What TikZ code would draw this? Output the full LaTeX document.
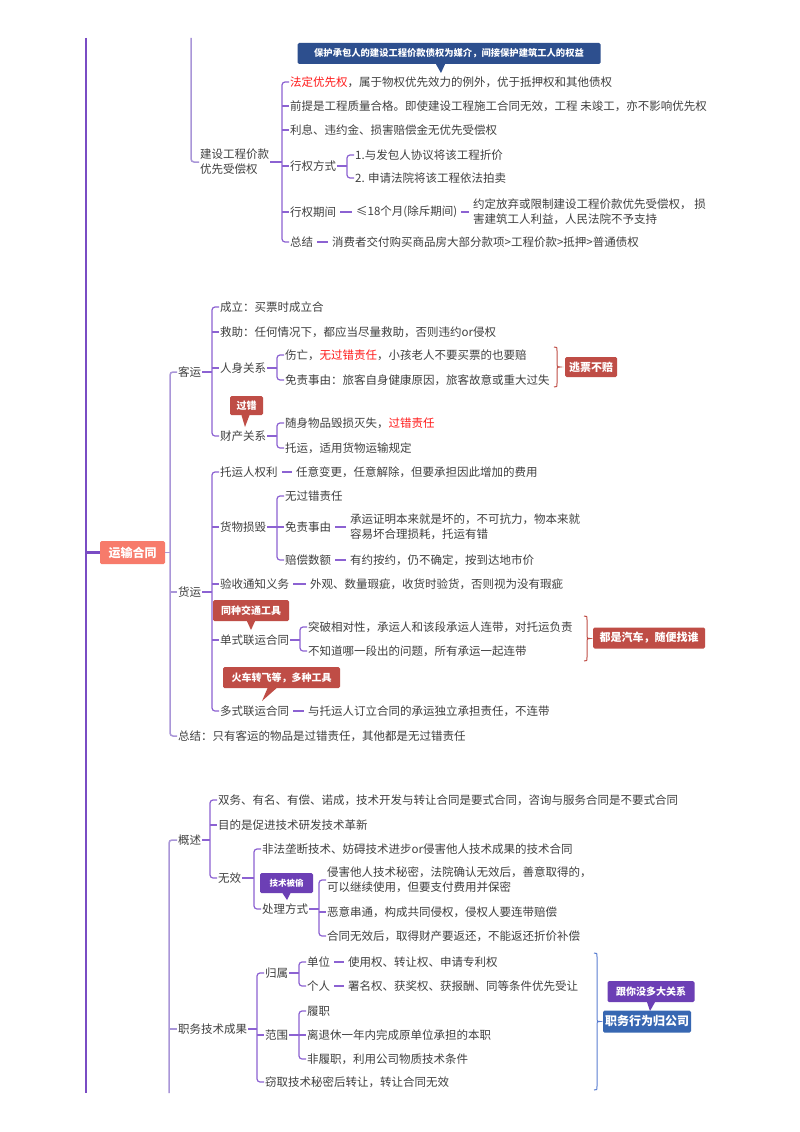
\documentclass[tikz,border=0pt]{standalone}
\usepackage{fontspec}
\setmainfont{Noto Sans CJK SC}
\usetikzlibrary{calc}
\definecolor{tg}{HTML}{404040}
\definecolor{lp}{HTML}{A996D8}
\definecolor{mp}{HTML}{7A4CC4}
\definecolor{bp}{HTML}{8C62D2}
\definecolor{rd}{HTML}{FF1A1A}
\definecolor{cr}{HTML}{BF4D46}
\definecolor{salm}{HTML}{F77B6B}
\definecolor{navy}{HTML}{2D4F8E}
\definecolor{blu}{HTML}{3767B2}
\definecolor{pcal}{HTML}{6C3FB5}
\definecolor{bbr}{HTML}{5B7FD1}
\newcommand\fs{\fontsize{11.5}{15}\selectfont}
\newcommand\rtxt[1]{\textcolor{rd}{#1}}
\tikzset{
  txt/.style={anchor=west, inner sep=1pt, text=tg, font=\fs},
  br/.style={draw=bp, line width=1.2pt, rounded corners=3pt},
  dsh/.style={draw=bp, line width=1.2pt, shorten <=3pt, shorten >=3pt},
  lline/.style={draw=lp, line width=1.5pt, rounded corners=3pt},
  mline/.style={draw=mp, line width=2.2pt},
  callbox/.style={text=white, inner sep=0pt, rounded corners=1.5pt, font=\bfseries\fontsize{10}{12}\selectfont},
}
\newcommand\mybrk[4][]{%
  \draw[br,#1] (#2.east) -- ($(#2.east -| #3.west)+(-7,0)$);
  \draw[br,#1] (#3.west) -| ($(#4.west)+(-7,0)$) -- (#4.west);}
\newcommand\mytick[2][]{\draw[br,#1] ($(#2.west)+(-7,0)$) -- (#2.west);}
\newcommand\mybrace[4]{%
  \draw[#4, line width=1pt] ({#1-3},#2) .. controls ({#1},#2) .. ({#1},{#2+4}) -- ({#1},{(#2+#3)/2-3}) .. controls ({#1},{(#2+#3)/2}) .. ({#1+3},{(#2+#3)/2}) .. controls ({#1},{(#2+#3)/2}) .. ({#1},{(#2+#3)/2+3}) -- ({#1},{#3-4}) .. controls ({#1},#3) .. ({#1-3},#3);}
\begin{document}
\begin{tikzpicture}[x=1pt,y=-1pt]
\useasboundingbox (0,0) rectangle (800,1132);
\fill[white] (0,0) rectangle (800,1132);

% ---------- main line ----------
\coordinate (m0) at (86,38);
\coordinate (m1) at (86,1093);
\node[callbox, fill=salm, minimum width=65pt, minimum height=23pt, font=\bfseries\fontsize{12}{14}\selectfont] (ys) at (132.5,552.5) {运输合同};
\draw[mline] (m0) -- (m1);
\draw[mline] (m0 |- ys.west) -- (ys.west);

% ---------- section 1 ----------
\coordinate (t0) at (191,38);
\node[txt, align=left] (jsgc) at (199,162) {建设工程价款\\优先受偿权};
\draw[lline] (t0) |- (jsgc.west);
\node[txt] (a1) at (289,82) {\rtxt{法定优先权}，属于物权优先效力的例外，优于抵押权和其他债权};
\node[txt] (a2) at (289,106) {前提是工程质量合格。即使建设工程施工合同无效，工程 未竣工，亦不影响优先权};
\node[txt] (a3) at (289,130) {利息、违约金、损害赔偿金无优先受偿权};
\node[txt] (a4) at (289,166) {行权方式};
\node[txt] (a41) at (354,155) {1.与发包人协议将该工程折价};
\node[txt] (a42) at (354,178) {2. 申请法院将该工程依法拍卖};
\node[txt] (a5) at (289,212) {行权期间};
\node[txt] (a51) at (355,212) {≤18个月(除斥期间)};
\node[txt, align=left] (a52) at (472,212) {约定放弃或限制建设工程价款优先受偿权， 损\\害建筑工人利益，人民法院不予支持};
\node[txt] (a6) at (289,242) {总结};
\node[txt] (a61) at (331,242) {消费者交付购买商品房大部分款项>工程价款>抵押>普通债权};
\mybrk{jsgc}{a1}{a6}
\mytick{a2}\mytick{a3}\mytick{a4}\mytick{a5}
\mybrk{a4}{a41}{a42}
\draw[dsh] (a5.east) -- (a51.west);
\draw[dsh] (a51.east) -- (a52.west);
\draw[dsh] (a6.east) -- (a61.west);
\node[callbox, fill=navy, minimum width=303pt, minimum height=21pt, font=\bfseries\fontsize{9.3}{11}\selectfont] (cb) at (449,53.5) {保护承包人的建设工程价款债权为媒介，间接保护建筑工人的权益};
\coordinate (cbt) at (441,73);
\fill[navy] ($(cb.south)+(-13,0)$) -- (cbt) -- ($(cb.south)+(-4,0)$) -- cycle;

% ---------- section 2 ----------
\node[txt] (ky) at (177,372) {客运};
\node[txt] (hy) at (177,592) {货运};
\node[txt] (d1) at (177,736) {总结：只有客运的物品是过错责任，其他都是无过错责任};
\mybrk[draw=lp, line width=1.5pt]{ys}{ky}{d1}
\mytick[draw=lp, line width=1.5pt]{hy}

\node[txt] (b1) at (219,307) {成立：买票时成立合};
\node[txt] (b2) at (219,332) {救助：任何情况下，都应当尽量救助，否则违约or侵权};
\node[txt] (b3) at (219,368) {人身关系};
\node[txt] (b31) at (284,355) {伤亡，\rtxt{无过错责任}，小孩老人不要买票的也要赔};
\node[txt] (b32) at (284,380) {免责事由：旅客自身健康原因，旅客故意或重大过失};
\node[txt] (b4) at (219,436) {财产关系};
\node[txt] (b41) at (284,423) {随身物品毁损灭失，\rtxt{过错责任}};
\node[txt] (b42) at (284,448) {托运，适用货物运输规定};
\mybrk{ky}{b1}{b4}
\mytick{b2}\mytick{b3}
\mybrk{b3}{b31}{b32}
\mybrk{b4}{b41}{b42}
\node[callbox, fill=cr, minimum width=33pt, minimum height=19pt] (cg) at (246.5,405.5) {过错};
\coordinate (cgt) at (245,427);
\fill[cr] ($(cg.south)+(-5,0)$) -- (cgt) -- ($(cg.south)+(3,0)$) -- cycle;
\mybrace{557}{347}{387}{cr}
\node[callbox, fill=cr, minimum width=52pt, minimum height=20pt, font=\bfseries\fontsize{11}{13}\selectfont] (tp) at (591,367) {逃票不赔};

\node[txt] (c1) at (219,472) {托运人权利};
\node[txt] (c11) at (295,472) {任意变更，任意解除，但要承担因此增加的费用};
\node[txt] (c2) at (219,527) {货物损毁};
\node[txt] (c21) at (284,496) {无过错责任};
\node[txt] (c22) at (284,527) {免责事由};
\node[txt, align=left] (c221) at (349,527) {承运证明本来就是坏的，不可抗力，物本来就\\容易坏合理损耗，托运有错};
\node[txt] (c23) at (284,560) {赔偿数额};
\node[txt] (c231) at (349,560) {有约按约，仍不确定，按到达地市价};
\node[txt] (c3) at (219,584) {验收通知义务};
\node[txt] (c31) at (309,584) {外观、数量瑕疵，收货时验货，否则视为没有瑕疵};
\node[txt] (c4) at (219,640) {单式联运合同};
\node[txt] (c41) at (307,627) {突破相对性，承运人和该段承运人连带，对托运负责};
\node[txt] (c42) at (307,651) {不知道哪一段出的问题，所有承运一起连带};
\node[txt] (c5) at (219,711) {多式联运合同};
\node[txt] (c51) at (307,711) {与托运人订立合同的承运独立承担责任，不连带};
\mybrk{hy}{c1}{c5}
\mytick{c2}\mytick{c3}\mytick{c4}
\mybrk{c2}{c21}{c23}
\mytick{c22}
\mybrk{c4}{c41}{c42}
\draw[dsh] (c1.east) -- (c11.west);
\draw[dsh] (c22.east) -- (c221.west);
\draw[dsh] (c23.east) -- (c231.west);
\draw[dsh] (c3.east) -- (c31.west);
\draw[dsh] (c5.east) -- (c51.west);
\node[callbox, fill=cr, minimum width=76pt, minimum height=21pt] (ct) at (251,610.5) {同种交通工具};
\coordinate (ctt) at (251,630);
\fill[cr] ($(ct.south)+(-4,0)$) -- (ctt) -- ($(ct.south)+(4,0)$) -- cycle;
\mybrace{587}{616}{661}{cr}
\node[callbox, fill=cr, minimum width=112pt, minimum height=21pt, font=\bfseries\fontsize{11}{13}\selectfont] (qc) at (649,638) {都是汽车，随便找谁};
\node[callbox, fill=cr, minimum width=117pt, minimum height=21pt] (hc) at (281.5,677.5) {火车转飞等，多种工具};
\coordinate (hct) at (262,701);
\fill[cr] ($(hc.south)+(-14,0)$) -- (hct) -- ($(hc.south)+(-5,0)$) -- cycle;

% ---------- section 3 ----------
\node[txt] (gs) at (177,840) {概述};
\node[txt] (zw) at (177,1029) {职务技术成果};
\coordinate (bb) at (169,1093);
\draw[lline] (gs.west) -| (bb);
\draw[lline] (bb |- zw.west) -- (zw.west);

\node[txt] (e1) at (217,800) {双务、有名、有偿、诺成，技术开发与转让合同是要式合同，咨询与服务合同是不要式合同};
\node[txt] (e2) at (217,825) {目的是促进技术研发技术革新};
\node[txt] (e3) at (217,878) {无效};
\node[txt] (e31) at (261,849) {非法垄断技术、妨碍技术进步or侵害他人技术成果的技术合同};
\node[txt] (e32) at (261,909) {处理方式};
\node[txt, align=left] (e321) at (326,880) {侵害他人技术秘密，法院确认无效后，善意取得的，\\可以继续使用，但要支付费用并保密};
\node[txt] (e322) at (326,912) {恶意串通，构成共同侵权，侵权人要连带赔偿};
\node[txt] (e323) at (326,936) {合同无效后，取得财产要返还，不能返还折价补偿};
\mybrk{gs}{e1}{e3}
\mytick{e2}
\mybrk{e3}{e31}{e32}
\mybrk{e32}{e321}{e323}
\mytick{e322}
\node[callbox, fill=pcal, minimum width=53pt, minimum height=20pt, font=\bfseries\fontsize{8.5}{10}\selectfont] (cj) at (286.5,883) {技术被偷};
\coordinate (cjt) at (287,900);
\fill[pcal] ($(cj.south)+(-4,0)$) -- (cjt) -- ($(cj.south)+(4,0)$) -- cycle;

\node[txt] (f1) at (264,973) {归属};
\node[txt] (f11) at (306,962) {单位};
\node[txt] (f111) at (347,962) {使用权、转让权、申请专利权};
\node[txt] (f12) at (306,986) {个人};
\node[txt] (f121) at (347,986) {署名权、获奖权、获报酬、同等条件优先受让};
\node[txt] (f2) at (264,1035) {范围};
\node[txt] (f21) at (306,1011) {履职};
\node[txt] (f22) at (306,1035) {离退休一年内完成原单位承担的本职};
\node[txt] (f23) at (306,1059) {非履职，利用公司物质技术条件};
\node[txt] (f3) at (264,1082) {窃取技术秘密后转让，转让合同无效};
\mybrk{zw}{f1}{f3}
\mytick{f2}
\mybrk{f1}{f11}{f12}
\mybrk{f2}{f21}{f23}
\mytick{f22}
\draw[dsh] (f11.east) -- (f111.west);
\draw[dsh] (f12.east) -- (f121.west);
\mybrace{597}{953}{1090}{bbr}
\node[callbox, fill=pcal, minimum width=87pt, minimum height=21pt] (cn) at (651,991.5) {跟你没多大关系};
\coordinate (cnt) at (650,1011);
\fill[pcal] ($(cn.south)+(-4,0)$) -- (cnt) -- ($(cn.south)+(4,0)$) -- cycle;
\node[callbox, fill=blu, minimum width=88pt, minimum height=22pt, font=\bfseries\fontsize{12}{14}\selectfont] (zg) at (647,1021.5) {职务行为归公司};
\end{tikzpicture}
\end{document}
